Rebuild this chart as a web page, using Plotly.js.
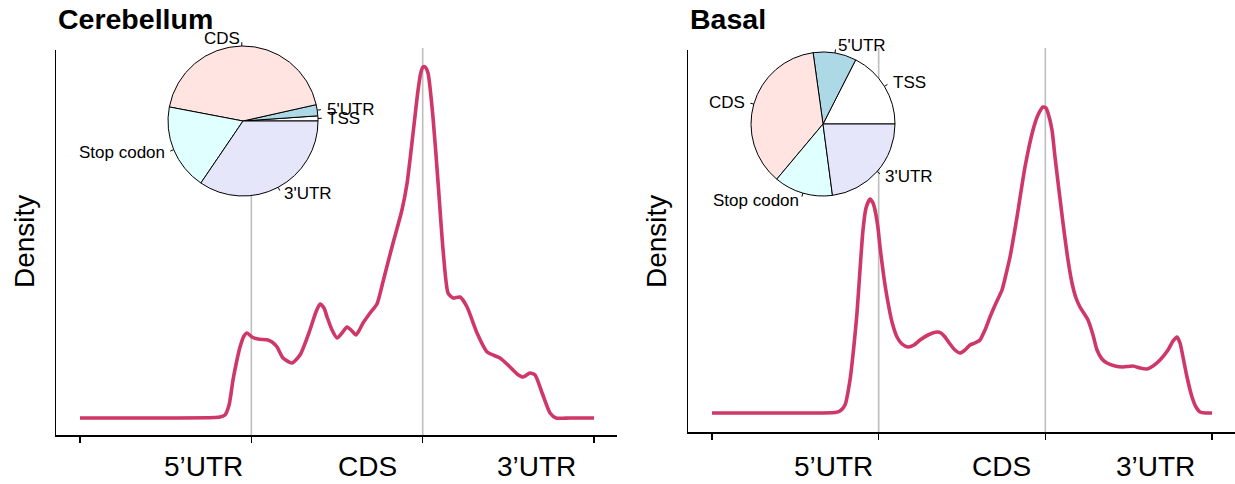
<!DOCTYPE html>
<html>
<head>
<meta charset="utf-8">
<script src="https://cdn.plot.ly/plotly-3.0.1.min.js"></script>
<style>
  html, body { margin: 0; padding: 0; background: #ffffff; }
  #chart { width: 1235px; height: 484px; }
</style>
</head>
<body>
<div id="chart"></div>
<script>
// ---- Data ---------------------------------------------------------------
// Metagene density along transcript (0 = start, 1 = 5'UTR/CDS, 2 = CDS/3'UTR, 3 = end)
const cerebellumPos = [0, 0.409, 0.788, 0.817, 0.846, 0.870, 0.893, 0.916, 0.934, 0.957, 0.975,
  1.004, 1.039, 1.097, 1.121, 1.150, 1.185, 1.237, 1.284, 1.342, 1.377, 1.401, 1.424, 1.442,
  1.471, 1.500, 1.529, 1.558, 1.582, 1.611, 1.652, 1.693, 1.733, 1.768, 1.798, 1.827, 1.879,
  1.909, 1.944, 1.973, 1.990, 2.002, 2.014, 2.031, 2.060, 2.090, 2.119, 2.148, 2.177, 2.218,
  2.259, 2.317, 2.376, 2.451, 2.510, 2.551, 2.586, 2.626, 2.656, 2.697, 2.743, 2.778, 2.860, 3.000];
const cerebellumDensity = [0, 0, 0.005, 0.01, 0.03, 0.13, 0.38, 0.58, 0.71, 0.82, 0.85,
  0.81, 0.79, 0.78, 0.76, 0.71, 0.60, 0.55, 0.63, 0.88, 1.06, 1.14, 1.10, 1.01,
  0.88, 0.80, 0.85, 0.91, 0.88, 0.83, 0.95, 1.05, 1.14, 1.36, 1.56, 1.75, 2.08,
  2.35, 2.85, 3.28, 3.46, 3.51, 3.51, 3.45, 3.01, 2.35, 1.68, 1.25, 1.20, 1.21,
  1.11, 0.85, 0.66, 0.60, 0.51, 0.44, 0.41, 0.45, 0.43, 0.25, 0.05, 0, 0, 0];

const basalPos = [0, 0.528, 0.738, 0.768, 0.798, 0.828, 0.852, 0.870, 0.888, 0.906, 0.924,
  0.948, 0.966, 0.978, 0.996, 1.008, 1.032, 1.050, 1.080, 1.110, 1.140, 1.176, 1.212, 1.248,
  1.296, 1.350, 1.374, 1.398, 1.428, 1.458, 1.488, 1.518, 1.548, 1.578, 1.608, 1.638, 1.668,
  1.704, 1.740, 1.770, 1.788, 1.830, 1.878, 1.926, 1.956, 1.986, 2.004, 2.016, 2.040, 2.058,
  2.106, 2.136, 2.160, 2.184, 2.208, 2.256, 2.286, 2.310, 2.340, 2.370, 2.418, 2.466, 2.526,
  2.568, 2.610, 2.646, 2.688, 2.736, 2.766, 2.790, 2.808, 2.826, 2.850, 2.880, 2.904, 2.928,
  2.964, 3.000];
const basalDensity = [0, 0, 0.005, 0.02, 0.08, 0.33, 0.68, 1.00, 1.43, 1.83, 2.05,
  2.14, 2.10, 2.03, 1.85, 1.66, 1.35, 1.16, 0.91, 0.76, 0.69, 0.66, 0.68, 0.73,
  0.78, 0.81, 0.80, 0.76, 0.69, 0.63, 0.60, 0.63, 0.68, 0.70, 0.73, 0.83, 0.96,
  1.10, 1.23, 1.43, 1.56, 1.96, 2.46, 2.83, 2.98, 3.06, 3.05, 3.00, 2.83, 2.56,
  1.90, 1.53, 1.30, 1.15, 1.06, 0.93, 0.78, 0.63, 0.54, 0.50, 0.47, 0.46, 0.47,
  0.45, 0.44, 0.47, 0.53, 0.63, 0.72, 0.76, 0.70, 0.56, 0.36, 0.16, 0.06, 0.01,
  0, 0];

// Peak-location categories (percent of peaks)
const pieLabels = ["TSS", "5'UTR", "CDS", "Stop codon", "3'UTR"];
const cerebellumShares = [1.1, 2.4, 43.5, 18.5, 34.5];
const basalShares = [17.5, 9.7, 36.7, 13.2, 22.9];

// Transcript region names under the x axis
const regionLabels = ["5\u2019UTR", "CDS", "3\u2019UTR"];
const boundaryTicks = [0, 1, 2, 3];
const regionBoundaries = [1, 2];

// ---- Layout helpers -------------------------------------------------------
const W = 1235, H = 484;
const px = v => v / W;
const py = v => 1 - v / H;

const FONT = "Liberation Sans, Arial, Helvetica, sans-serif";
const LINE_COLOR = "#CE3768";
const pieColors = ["#FFFFFF", "#ADD8E6", "#FFE4E1", "#E0FFFF", "#E6E6FA"];

const panels = [
  {
    name: "Cerebellum", pos: cerebellumPos, dens: cerebellumDensity, shares: cerebellumShares,
    xa: "x", ya: "y", left: 56, right: 617, top: 50, bottom: 435,
    xr: [-0.140, 3.134], yr: [-0.17, 3.68],
    pie: { cx: 243, cy: 121, r: 75 },
    labelAt: [0.72, 1.675, 2.667], ytitleX: 24
  },
  {
    name: "Basal", pos: basalPos, dens: basalDensity, shares: basalShares,
    xa: "x2", ya: "y2", left: 688, right: 1235, top: 50, bottom: 432,
    xr: [-0.144, 3.138], yr: [-0.19, 3.63],
    pie: { cx: 823, cy: 124, r: 72 },
    labelAt: [0.726, 1.734, 2.658], ytitleX: 656
  }
];

const traces = [];
const shapes = [];
const annotations = [];
const layout = {
  width: W, height: H,
  margin: { l: 0, r: 0, t: 0, b: 0 },
  paper_bgcolor: "#ffffff", plot_bgcolor: "rgba(0,0,0,0)",
  showlegend: false,
  font: { family: FONT, color: "#000000" }
};

panels.forEach((p, i) => {
  const sfx = i === 0 ? "" : "2";
  layout["xaxis" + sfx] = {
    domain: [px(p.left), Math.min(1, px(p.right))],
    range: p.xr, anchor: "y" + sfx,
    showgrid: false, zeroline: false,
    showline: true, linecolor: "#000000", linewidth: 1.5,
    tickmode: "array", tickvals: boundaryTicks, showticklabels: false,
    ticks: "outside", ticklen: 6, tickwidth: 1.5, tickcolor: "#000000",
    fixedrange: true
  };
  layout["yaxis" + sfx] = {
    domain: [py(p.bottom), py(p.top)],
    range: p.yr, anchor: "x" + sfx,
    showgrid: false, zeroline: false,
    showline: true, linecolor: "#000000", linewidth: 1.5,
    showticklabels: false, ticks: "",
    fixedrange: true
  };

  // grey boundary lines between transcript regions
  regionBoundaries.forEach(b => {
    shapes.push({
      type: "line", layer: "below", xref: p.xa, yref: "paper",
      x0: b, x1: b, y0: py(p.bottom), y1: py(48),
      line: { color: "#BEBEBE", width: 1.6 }
    });
  });

  // density curve
  traces.push({
    type: "scatter", mode: "lines", x: p.pos, y: p.dens,
    xaxis: p.xa, yaxis: p.ya,
    line: { color: LINE_COLOR, width: 3.6, shape: "spline", smoothing: 0.6 },
    hoverinfo: "skip"
  });

  // inset pie of peak locations: first slice begins at 3 o'clock, slices run counter-clockwise.
  // Plotly ends the first counter-clockwise slice at `rotation`, so shift by its own angle.
  const pc = p.pie;
  const total = p.shares.reduce((a, b) => a + b, 0);
  const firstAngle = p.shares[0] / total * 360;
  traces.push({
    type: "pie", labels: pieLabels, values: p.shares, sort: false,
    direction: "counterclockwise", rotation: 90 - firstAngle,
    textinfo: "none", hoverinfo: "label+percent",
    marker: { colors: pieColors, line: { color: "#000000", width: 1 } },
    domain: { x: [px(pc.cx - pc.r), px(pc.cx + pc.r)], y: [py(pc.cy + pc.r), py(pc.cy - pc.r)] }
  });

  // pie slice labels with short leader ticks
  let acc = 0;
  p.shares.forEach((v, k) => {
    const mid = (acc + v / 2) / total * 2 * Math.PI;
    acc += v;
    const c = Math.cos(mid), s = Math.sin(mid);
    shapes.push({
      type: "line", xref: "paper", yref: "paper",
      x0: px(pc.cx + pc.r * c), y0: py(pc.cy - pc.r * s),
      x1: px(pc.cx + 1.05 * pc.r * c), y1: py(pc.cy - 1.05 * pc.r * s),
      line: { color: "#000000", width: 1 }
    });
    annotations.push({
      xref: "paper", yref: "paper",
      x: px(pc.cx + 1.1 * pc.r * c), y: py(pc.cy - 1.1 * pc.r * s),
      xanchor: c < 0 ? "right" : "left", yanchor: "middle",
      text: pieLabels[k], showarrow: false,
      font: { family: FONT, size: 17, color: "#000000" }
    });
  });

  // region names under the axis
  regionLabels.forEach((t, k) => {
    annotations.push({
      xref: p.xa, yref: "paper", x: p.labelAt[k], y: py(466),
      xanchor: "center", yanchor: "middle", text: t, showarrow: false,
      font: { family: FONT, size: 28, color: "#000000" }
    });
  });

  // panel title
  annotations.push({
    xref: "paper", yref: "paper", x: px(p.left), y: py(19),
    xanchor: "left", yanchor: "middle", text: "<b>" + p.name + "</b>", showarrow: false,
    font: { family: FONT, size: 28.5, color: "#000000" }
  });

  // y axis title
  annotations.push({
    xref: "paper", yref: "paper", x: px(p.ytitleX), y: py(242),
    xanchor: "center", yanchor: "middle", textangle: -90,
    text: "Density", showarrow: false,
    font: { family: FONT, size: 28, color: "#000000" }
  });
});

layout.shapes = shapes;
layout.annotations = annotations;

Plotly.newPlot("chart", traces, layout, { displayModeBar: false, staticPlot: true });
</script>
</body>
</html>
